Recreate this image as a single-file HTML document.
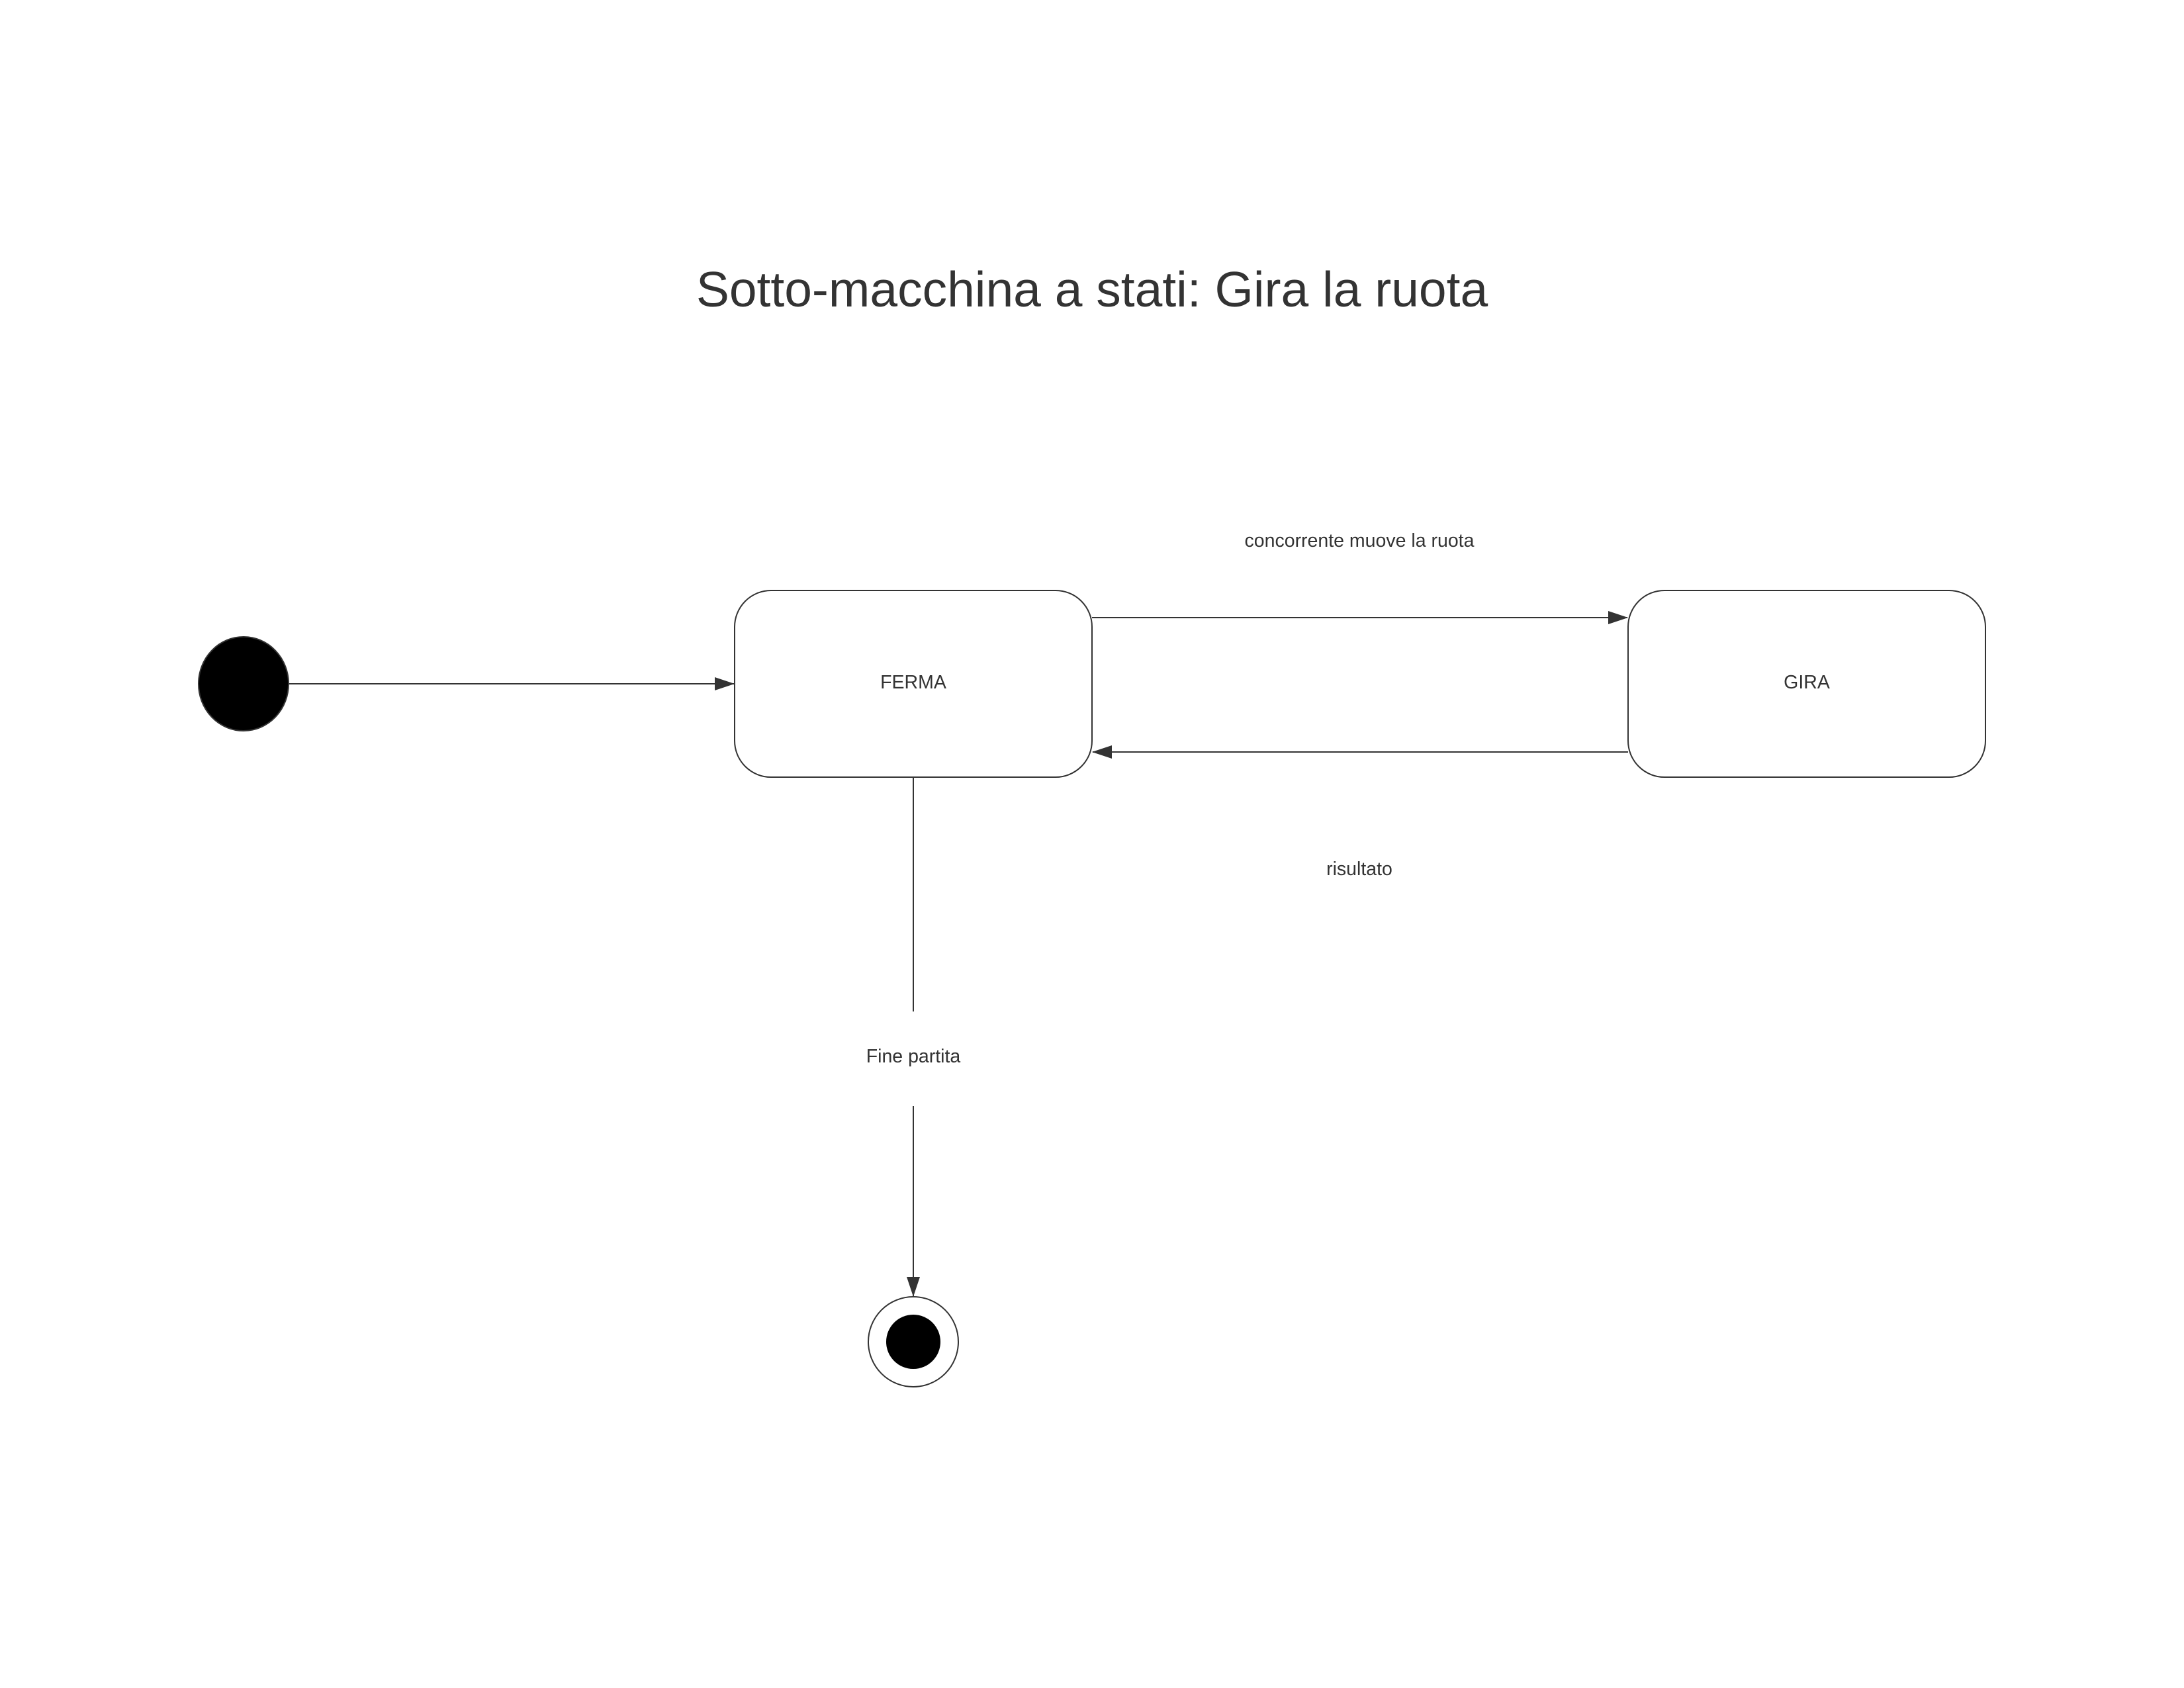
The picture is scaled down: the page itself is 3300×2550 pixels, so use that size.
<!DOCTYPE html>
<html><head><meta charset="utf-8"><style>
html,body{margin:0;padding:0;background:#fff;}
svg{display:block;}
text{font-family:"Liberation Sans",sans-serif;fill:#333;}
</style></head><body>
<svg width="3300" height="2550" viewBox="0 0 3300 2550" xmlns="http://www.w3.org/2000/svg">
<defs>
<marker id="a" markerWidth="30" markerHeight="20" refX="29" refY="10" orient="auto" markerUnits="userSpaceOnUse">
<path d="M0,0 L30,10 L0,20 Z" fill="#333"/>
</marker>
</defs>
<text x="1650" y="463" font-size="75" text-anchor="middle">Sotto-macchina a stati: Gira la ruota</text>
<ellipse cx="368" cy="1033" rx="68" ry="71" fill="#000" stroke="#333" stroke-width="2"/>
<line x1="436" y1="1033" x2="1109" y2="1033" stroke="#333" stroke-width="2" marker-end="url(#a)"/>
<rect x="1110" y="892" width="540" height="282" rx="55" ry="55" fill="#fff" stroke="#333" stroke-width="2"/>
<text x="1380" y="1040" font-size="28.5" text-anchor="middle">FERMA</text>
<rect x="2460" y="892" width="540" height="282" rx="55" ry="55" fill="#fff" stroke="#333" stroke-width="2"/>
<text x="2730" y="1040" font-size="28.5" text-anchor="middle">GIRA</text>
<line x1="1650" y1="933" x2="2459" y2="933" stroke="#333" stroke-width="2" marker-end="url(#a)"/>
<line x1="2460" y1="1136" x2="1651" y2="1136" stroke="#333" stroke-width="2" marker-end="url(#a)"/>
<text x="2054" y="826" font-size="28.5" text-anchor="middle">concorrente muove la ruota</text>
<text x="2054" y="1322" font-size="28.5" text-anchor="middle">risultato</text>
<line x1="1380" y1="1174" x2="1380" y2="1528" stroke="#333" stroke-width="2"/>
<text x="1380" y="1605" font-size="28.5" text-anchor="middle">Fine partita</text>
<line x1="1380" y1="1671" x2="1380" y2="1958" stroke="#333" stroke-width="2" marker-end="url(#a)"/>
<circle cx="1380" cy="2027" r="68" fill="#fff" stroke="#333" stroke-width="2"/>
<circle cx="1380" cy="2027" r="41" fill="#000"/>
</svg>
</body></html>
